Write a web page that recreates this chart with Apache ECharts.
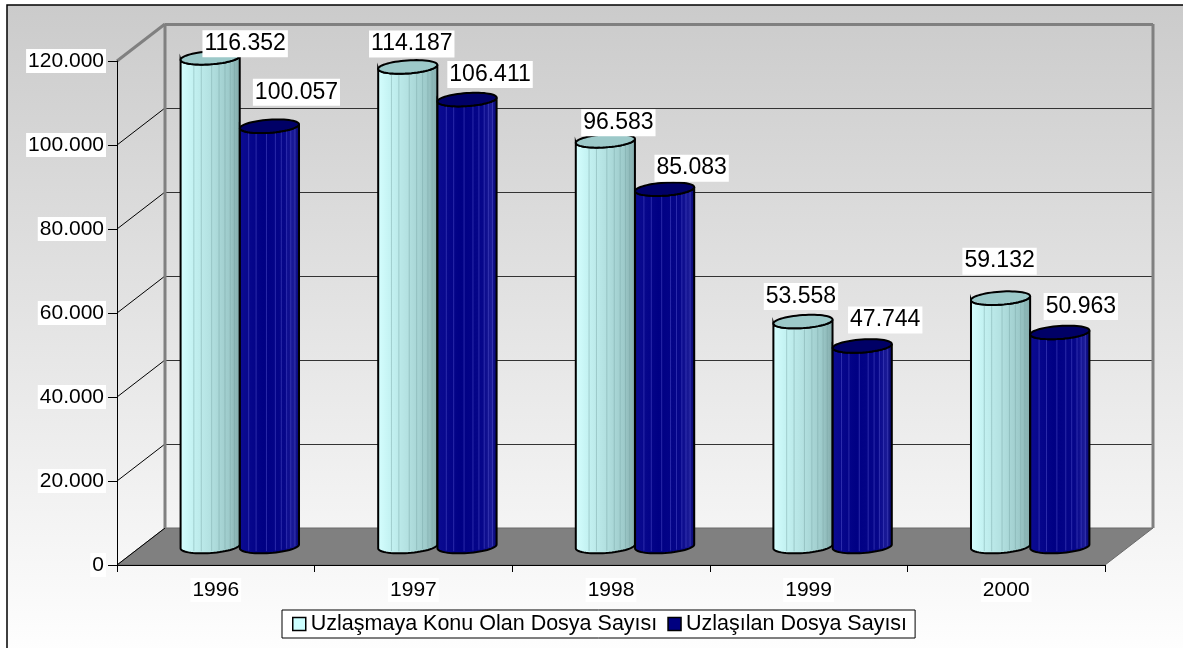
<!DOCTYPE html>
<html><head><meta charset="utf-8">
<script src="https://cdn.jsdelivr.net/npm/echarts@6/dist/echarts.min.js"></script>
<style>html,body{margin:0;padding:0;background:#fff}#c{width:1183px;height:648px}</style>
</head><body><div id="c"></div>
<script>
const categories = ['1996', '1997', '1998', '1999', '2000'];
const seriesNames = ['Uzlaşmaya Konu Olan Dosya Sayısı', 'Uzlaşılan Dosya Sayısı'];
const uzlasmayaKonu = [116352, 114187, 96583, 53558, 59132];
const uzlasilan = [100057, 106411, 85083, 47744, 50963];
const yTicks = [0, 20000, 40000, 60000, 80000, 100000, 120000];

const FONT = "'Liberation Sans', Arial, sans-serif";
const DEPTH = [48, -37];
const ANG = -0.07;
// label nudges (style only), per series / per category
const labelShift = [
  [[35, -14], [4, -23], [13, -18], [-2, -25], [-1, -37]],
  [[27, -34], [23, -25], [27, -21], [23, -26], [21, -26]]
];
const cylStyle = [
  { body: [[0, '#d6ffff'], [0.18, '#c6f4f4'], [0.5, '#b3e1e1'], [0.8, '#9ecbcb'], [1, '#82a9a9']], cap: '#9cc9c9',
    stripes: [-0.55, -0.3, 0.05, 0.3, 0.5, 0.68, 0.82], stripeColor: 'rgba(120,165,165,0.45)' },
  { body: [[0, '#0c0c92'], [0.4, '#000084'], [0.75, '#06068a'], [0.9, '#1a1a96'], [1, '#00006c']], cap: '#000066',
    stripes: [-0.7, -0.45, -0.1, 0.2, 0.4, 0.58, 0.72, 0.86], stripeColor: 'rgba(90,90,210,0.45)' }
];

function fmt(v) { return String(v).replace(/\B(?=(\d{3})+(?!\d))/g, '.'); }

function ellipsePts(cx, cy, rx, ry, t0, t1, n) {
  const pts = [], ca = Math.cos(ANG), sa = Math.sin(ANG);
  for (let i = 0; i <= n; i++) {
    const t = t0 + (t1 - t0) * i / n;
    const px = rx * Math.cos(t), py = ry * Math.sin(t);
    pts.push([cx + px * ca - py * sa, cy + px * sa + py * ca]);
  }
  return pts;
}

function frameRender(params, api) {
  const cs = params.coordSys;
  const x0 = cs.x, x1 = cs.x + cs.width;
  const dx = DEPTH[0], dy = DEPTH[1];
  const ch = [];
  const yb = api.coord([0, 0])[1];
  const ytop = api.coord([0, yTicks[yTicks.length - 1]])[1];
  ch.push({ type: 'polygon', shape: { points: [[x0, yb], [x1, yb], [x1 + dx, yb + dy], [x0 + dx, yb + dy]] },
    style: { fill: '#808080', stroke: '#6a6a6a', lineWidth: 1 } });
  yTicks.forEach((v, i) => {
    const y = Math.round(api.coord([0, v])[1]);
    const isTop = i === yTicks.length - 1;
    if (v !== 0) {
      ch.push({ type: 'line', shape: { x1: x0 + dx, y1: y + dy + 0.5, x2: x1 + dx, y2: y + dy + 0.5 },
        style: { stroke: isTop ? '#808080' : '#333', lineWidth: isTop ? 3 : 1 } });
    }
    ch.push({ type: 'line', shape: { x1: x0, y1: y, x2: x0 + dx, y2: y + dy },
      style: { stroke: isTop ? '#808080' : '#000', lineWidth: isTop ? 3 : 1 } });
  });
  ch.push({ type: 'line', shape: { x1: x0 + dx, y1: ytop + dy, x2: x0 + dx, y2: yb + dy }, style: { stroke: '#808080', lineWidth: 3 } });
  ch.push({ type: 'line', shape: { x1: x1 + dx, y1: ytop + dy, x2: x1 + dx, y2: yb + dy }, style: { stroke: '#808080', lineWidth: 3 } });
  return { type: 'group', children: ch };
}

function makeCyl(si) {
  return function (params, api) {
    const idx = api.value(0), val = api.value(1);
    const dx = DEPTH[0], dy = DEPTH[1];
    const bw = api.size([1, 0])[0];
    const rx = bw * 0.15, ry = 6.5;
    const off = (si === 0 ? -1 : 1) * rx;
    const top = api.coord([idx, val]);
    const base = api.coord([idx, 0]);
    const cx = top[0] + dx / 2 + off;
    const ty = top[1] + dy / 2, by = base[1] + dy / 2;
    const body = ellipsePts(cx, by, rx, ry, Math.PI, 0, 30).concat(ellipsePts(cx, ty, rx, ry, 0, Math.PI, 30));
    const cap = ellipsePts(cx, ty, rx, ry, 0, Math.PI * 2, 60);
    const st = cylStyle[si];
    const sh = labelShift[si][params.dataIndex];
    const kids = [
      { type: 'polygon', z2: 1, shape: { points: body },
        style: { fill: { type: 'linear', x: 0, y: 0, x2: 1, y2: 0, colorStops: st.body.map(s => ({ offset: s[0], color: s[1] })) },
          stroke: '#000', lineWidth: 2 } }
    ];
    const sa = Math.sin(ANG);
    st.stripes.forEach(u => {
      const x = cx + u * rx;
      const h = ry * Math.sqrt(1 - u * u);
      kids.push({ type: 'line', z2: 1.5, silent: true,
        shape: { x1: x, y1: ty + u * rx * sa + h, x2: x, y2: by + u * rx * sa + h - 2 },
        style: { stroke: st.stripeColor, lineWidth: 1 } });
    });
    kids.push({ type: 'polygon', z2: 2, shape: { points: cap }, style: { fill: st.cap, stroke: '#000', lineWidth: 2 } });
    kids.push({ type: 'text', z2: 100, style: { text: fmt(val), x: cx + sh[0], y: ty + sh[1], align: 'center', verticalAlign: 'middle',
          font: '23px ' + FONT, fill: '#000', backgroundColor: '#fff', padding: [3, 2, 1, 2] } });
    return { type: 'group', children: kids };
  };
}

const chart = echarts.init(document.getElementById('c'), null, { renderer: 'canvas' });
chart.setOption({
  animation: false,
  backgroundColor: '#fff',
  graphic: [{
    type: 'rect', z: -10, silent: true,
    shape: { x: 7, y: 5, width: 1190, height: 660 },
    style: { fill: new echarts.graphic.LinearGradient(0, 0, 0, 1, [{ offset: 0, color: '#cbcbcb' }, { offset: 1, color: '#ffffff' }]),
      stroke: '#000', lineWidth: 1.5 }
  }],
  grid: { left: 117, top: 61, right: 78, bottom: 83, containLabel: false, outerBoundsMode: 'none' },
  legend: {
    left: 282, top: 610, orient: 'horizontal', icon: 'rect', itemWidth: 13, itemHeight: 13, itemGap: 10,
    padding: [3, 8, 3, 10], backgroundColor: '#fff', borderColor: '#000', borderWidth: 1, borderRadius: 0,
    textStyle: { fontSize: 21.5, fontFamily: FONT, color: '#000' },
    itemStyle: { borderColor: '#000', borderWidth: 1.5 },
    data: seriesNames
  },
  xAxis: {
    type: 'category', data: categories, boundaryGap: true, z: 5,
    axisLine: { show: true, lineStyle: { color: '#000', width: 1 } },
    axisTick: { show: true, length: 7, interval: 0, lineStyle: { color: '#000' } },
    axisLabel: { fontSize: 21, fontFamily: FONT, color: '#000', margin: 13, backgroundColor: '#fff', padding: [2, 2, 1, 2], interval: 0 },
    splitLine: { show: false }
  },
  yAxis: {
    type: 'value', min: 0, max: 120000, interval: 20000, z: 5,
    axisLine: { show: true, lineStyle: { color: '#000', width: 1 } },
    axisTick: { show: true, length: 9, lineStyle: { color: '#000' } },
    axisLabel: { formatter: fmt, fontSize: 21, fontFamily: FONT, color: '#000', margin: 11, backgroundColor: '#fff', padding: [2, 2, 1, 2] },
    splitLine: { show: false }
  },
  series: [
    { type: 'custom', name: '__frame', renderItem: frameRender, data: [[0, 0]], encode: { x: 0, y: 1 }, z: 1, silent: true, clip: false },
    { type: 'custom', name: seriesNames[0], renderItem: makeCyl(0), encode: { x: 0, y: 1 }, z: 2, clip: false,
      itemStyle: { color: '#ccffff' }, data: categories.map((c, i) => [i, uzlasmayaKonu[i]]) },
    { type: 'custom', name: seriesNames[1], renderItem: makeCyl(1), encode: { x: 0, y: 1 }, z: 2, clip: false,
      itemStyle: { color: '#000080' }, data: categories.map((c, i) => [i, uzlasilan[i]]) }
  ]
});
</script></body></html>
